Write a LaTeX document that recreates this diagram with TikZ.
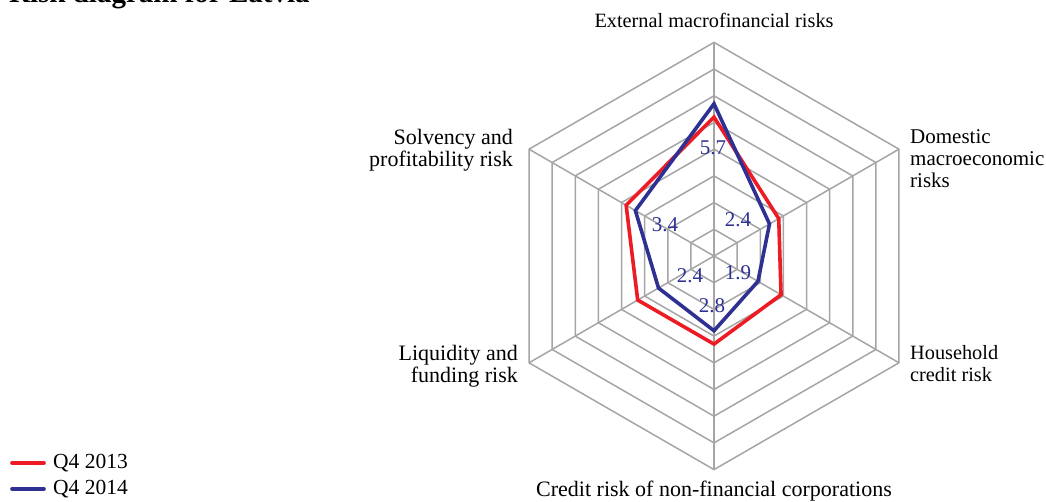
\documentclass[tikz,border=0pt]{standalone}
\usepackage{fontspec}
\setmainfont{Liberation Serif}
\usetikzlibrary{calc}
\definecolor{gridgray}{RGB}{165,165,165}
\definecolor{serred}{RGB}{237,28,36}
\definecolor{serblue}{RGB}{46,49,146}
\begin{document}
\begin{tikzpicture}[x=1pt,y=1pt,
  gridline/.style={draw=gridgray,line width=1.5pt},
  redline/.style={draw=serred,line width=3.6pt},
  blueline/.style={draw=serblue,line width=3.6pt},
  axislabel/.style={inner sep=0pt,font=\fontsize{21}{22}\selectfont},
  biglabel/.style={inner sep=0pt,font=\fontsize{22}{22}\selectfont},
  vallabel/.style={inner sep=0pt,text=serblue,font=\fontsize{21}{22}\selectfont},
  legtext/.style={anchor=west,inner sep=0pt,font=\fontsize{21.5}{22}\selectfont}]
\useasboundingbox (0,0) rectangle (1046,502);
\clip (0,0) rectangle (1046,502);
\coordinate (c) at (714,246);
\def\u{26.7}
% grid hexagons
\foreach \k in {1,...,8}{
  \draw[gridline] ($(c)+(90:\k*\u)$) -- ($(c)+(30:\k*\u)$) -- ($(c)+(-30:\k*\u)$) -- ($(c)+(-90:\k*\u)$) -- ($(c)+(-150:\k*\u)$) -- ($(c)+(150:\k*\u)$) -- cycle;
}
\foreach \a in {90,30,-30,-90,-150,150}{
  \draw[gridline] (c) -- ($(c)+(\a:8*\u)$);
}
% data series
\draw[redline] ($(c)+(90:5.2*\u)$) -- ($(c)+(30:2.8*\u)$) -- ($(c)+(-30:2.9*\u)$) -- ($(c)+(-90:3.3*\u)$) -- ($(c)+(-150:3.3*\u)$) -- ($(c)+(150:3.8*\u)$) -- cycle;
\draw[blueline] ($(c)+(90:5.7*\u)$) -- ($(c)+(30:2.4*\u)$) -- ($(c)+(-30:1.9*\u)$) -- ($(c)+(-90:2.8*\u)$) -- ($(c)+(-150:2.4*\u)$) -- ($(c)+(150:3.4*\u)$) -- cycle;
% value labels
\node[vallabel] (v1) at (713,354) {5.7};
\node[vallabel] (v2) at (738,282) {2.4};
\node[vallabel] (v3) at (665,277) {3.4};
\node[vallabel] (v4) at (690,226) {2.4};
\node[vallabel] (v5) at (738,229) {1.9};
\node[vallabel] (v6) at (712,196) {2.8};
% axis labels
\node[inner sep=0pt,font=\fontsize{20.3}{22}\selectfont,anchor=base] (ext) at (714,474) {External macrofinancial risks};
\node[axislabel,anchor=north west,align=left] (dom) at (910,372.5) {Domestic\\macroeconomic\\risks};
\node[inner sep=0pt,font=\fontsize{20.3}{22}\selectfont,anchor=north west,align=left] (hh) at (910,157) {Household\\credit risk};
\node[biglabel,anchor=base] (nfc) at (714,5) {Credit risk of non-financial corporations};
\node[biglabel,anchor=north east,align=right] (liq) at (518,157) {Liquidity and\\funding risk};
\node[biglabel,anchor=north east,align=right] (sol) at (513,372.5) {Solvency and\\profitability risk};
% title (cut off at top)
\node[anchor=base west,inner sep=0pt,font=\bfseries\fontsize{29}{32}\selectfont] (title) at (9,499.5) {Risk diagram for Latvia};
% legend
\coordinate (l1a) at (12,39); \coordinate (l1b) at (44,39);
\coordinate (l2a) at (12,13); \coordinate (l2b) at (44,13);
\draw[redline,line cap=round] (l1a) -- (l1b);
\draw[blueline,line cap=round] (l2a) -- (l2b);
\node[legtext] (q13) at (53,39) {Q4 2013};
\node[legtext] (q14) at (53,13) {Q4 2014};
\end{tikzpicture}
\end{document}
